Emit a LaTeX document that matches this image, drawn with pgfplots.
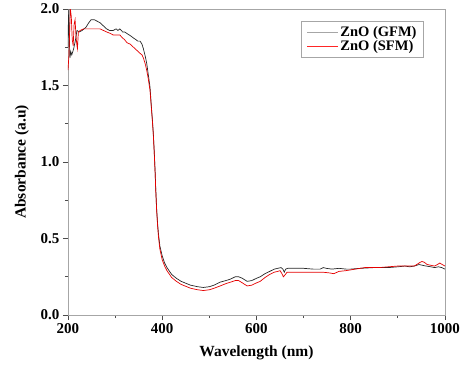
\documentclass[border=0pt]{standalone}
\usepackage{pgfplots}
\pgfplotsset{compat=1.18}
\usepackage{fontspec}
\setmainfont{Liberation Serif}
\begin{document}
\begin{tikzpicture}[x=1pt,y=1pt]
\useasboundingbox (-68,-50) rectangle (406,315);
\begin{axis}[
  at={(0,0)}, anchor=south west,
  scale only axis, width=377pt, height=306pt,
  xmin=200, xmax=1000, ymin=0, ymax=2.0,
  xtick={200,400,600,800,1000},
  ytick={0,0.5,1.0,1.5,2.0},
  minor xtick={300,500,700,900},
  minor ytick={0.25,0.75,1.25,1.75},
  xtick pos=bottom, ytick pos=left,
  tick align=outside,
  major tick length=5pt, minor tick length=3pt,
  tick style={gray!60!black, line width=0.8pt},
  axis line style={gray!70, line width=0.9pt},
  /pgf/number format/assume math mode=true,
  /pgf/number format/1000 sep={},
  yticklabel={\pgfmathprintnumber[fixed,fixed zerofill,precision=1]{\tick}},
  xticklabel={\pgfmathprintnumber[fixed,precision=0,1000 sep={}]{\tick}},
  ticklabel style={font=\fontsize{15}{16}\selectfont\bfseries},
  xlabel={Wavelength (nm)},
  ylabel={Absorbance (a.u)},
  label style={font=\fontsize{15.5}{17}\selectfont\bfseries},
  xlabel style={at={(axis description cs:0.5,0)}, anchor=center, yshift=-38pt},
  ylabel style={at={(axis description cs:0,0.5)}, anchor=center, yshift=46pt},
  legend style={at={(rel axis cs:0.944,0.961)}, anchor=north east,
    draw=gray!70, line width=0.6pt, fill=white,
    font=\fontsize{14.5}{16}\selectfont\bfseries,
    row sep=-1pt, inner xsep=5pt, inner ysep=3pt},
  legend cell align=left,
  legend image code/.code={\draw[#1, line width=0.9pt] (0pt,0pt) -- (31pt,0pt);},
  clip=true,
]
\addplot[black!85, line width=0.7pt, legend image post style={gray!70}] coordinates {
(200,1.75) (201,1.95) (202,2.0) (203,1.80) (204,1.68) (206,1.72) (208,1.70) (212,1.74)
(216,1.80) (219,1.86) (224,1.85) (230,1.86) (238,1.88) (244,1.91) (249,1.93)
(256,1.93) (262,1.92) (268,1.91) (275,1.89) (282,1.87) (288,1.86) (296,1.86)
(302,1.87) (306,1.86) (310,1.87) (316,1.85) (320,1.85) (325,1.84) (330,1.83)
(335,1.82) (339,1.81) (344,1.80) (348,1.79) (353,1.79) (357,1.77) (360,1.74)
(364,1.69) (367,1.645) (370,1.58) (374,1.49) (377,1.36) (379,1.28) (381,1.19)
(383,1.07) (385,0.93) (386,0.84) (388,0.70) (390,0.60) (392,0.53) (395,0.45)
(400,0.385) (405,0.34) (410,0.31) (420,0.265) (430,0.24) (440,0.22) (460,0.195)
(475,0.185) (487,0.18) (500,0.185) (510,0.195) (523,0.215) (535,0.225) (545,0.235)
(555,0.25) (562,0.25) (570,0.24) (580,0.22) (590,0.225) (600,0.24) (608,0.25)
(618,0.27) (628,0.285) (638,0.30) (645,0.305) (652,0.31) (656,0.30) (659,0.28)
(662,0.30) (666,0.305) (680,0.305) (700,0.305) (720,0.30) (735,0.30) (742,0.31)
(748,0.305) (760,0.30) (775,0.305) (790,0.30) (800,0.30) (820,0.305) (850,0.31)
(880,0.31) (900,0.315) (915,0.32) (925,0.315) (935,0.32) (945,0.33) (952,0.325)
(960,0.32) (970,0.315) (978,0.31) (986,0.315) (993,0.31) (1000,0.30)
};
\addlegendentry{ZnO (GFM)}
\addplot[red!90!black, line width=0.7pt, legend image post style={red!85}] coordinates {
(200,1.60) (202,1.70) (204,1.90) (205,2.0) (207,1.95) (209,1.80) (211,1.76)
(213,1.90) (215,1.93) (217,1.82) (219,1.76) (220,1.74) (222,1.85) (226,1.86)
(233,1.87) (240,1.87) (250,1.87) (260,1.87) (268,1.87) (275,1.86) (282,1.85)
(290,1.84) (296,1.83) (302,1.83) (310,1.83) (316,1.81) (320,1.80) (325,1.78)
(332,1.77) (339,1.75) (346,1.73) (353,1.71) (357,1.70) (360,1.68) (364,1.64)
(367,1.60) (370,1.55) (374,1.47) (377,1.35) (379,1.27) (381,1.18) (383,1.06)
(385,0.92) (386,0.83) (388,0.69) (390,0.59) (392,0.51) (395,0.43) (400,0.36)
(405,0.32) (410,0.29) (420,0.245) (430,0.22) (440,0.20) (460,0.175) (475,0.165)
(487,0.16) (500,0.165) (510,0.175) (523,0.19) (535,0.205) (545,0.215) (555,0.225)
(562,0.225) (570,0.21) (580,0.19) (590,0.195) (600,0.21) (608,0.22) (618,0.245)
(628,0.265) (638,0.28) (645,0.285) (650,0.29) (654,0.27) (657,0.25) (660,0.26)
(665,0.28) (680,0.28) (700,0.28) (720,0.28) (740,0.28) (755,0.275) (764,0.27)
(775,0.285) (790,0.29) (810,0.30) (830,0.31) (860,0.31) (880,0.315) (900,0.32)
(920,0.32) (935,0.32) (945,0.34) (951,0.35) (956,0.345) (962,0.33) (970,0.325)
(978,0.32) (984,0.33) (989,0.34) (994,0.33) (1000,0.32)
};
\addlegendentry{ZnO (SFM)}
\draw[black, line width=0.9pt] (rel axis cs:1,0) -- (rel axis cs:1,1);
\end{axis}
\end{tikzpicture}
\end{document}
